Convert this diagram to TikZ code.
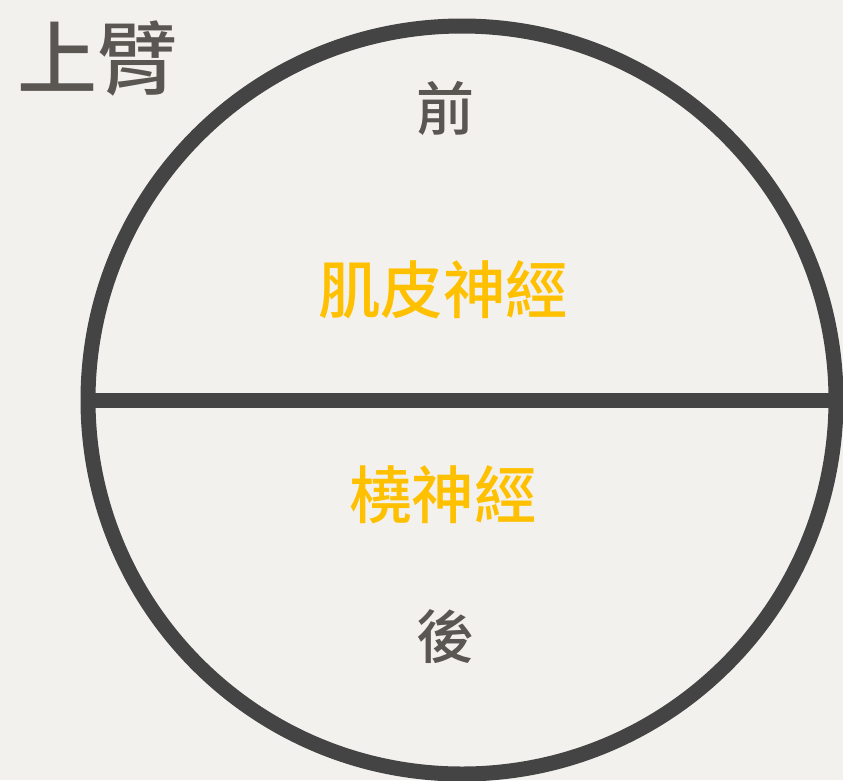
\documentclass[tikz,border=0pt]{standalone}
\usepackage{fontspec}
\newfontfamily\cjk{Noto Sans CJK TC Medium}
\definecolor{bg}{HTML}{F2F1EE}
\definecolor{ink}{HTML}{444444}
\definecolor{title}{HTML}{5A5652}
\definecolor{gold}{HTML}{FFC000}
\begin{document}
\begin{tikzpicture}[x=1pt,y=-1pt,
  lbl/.style={inner sep=0pt},
  nerve/.style={lbl, text=gold, font=\cjk\fontsize{62.5}{62.5}\selectfont},
  side/.style={lbl, text=title, font=\cjk\fontsize{58}{58}\selectfont}]
\fill[bg] (0,0) rectangle (843,780);
\useasboundingbox (0,0) rectangle (843,780);
\coordinate (c) at (462,400);
\draw[ink, line width=15pt] (c) circle (374);
\coordinate (l) at (88,400);
\coordinate (r) at (836,400);
\draw[ink, line width=15pt] (l) -- (r);
\node[lbl, text=title, font=\cjk\fontsize{80}{80}\selectfont] (t) at (97,58) {上臂};
\node[side] (f) at (445,108) {前};
\node[nerve] (m) at (443,290) {肌皮神經};
\node[nerve] (rn) at (443,495) {橈神經};
\node[side] (b) at (445,637) {後};
\end{tikzpicture}
\end{document}
